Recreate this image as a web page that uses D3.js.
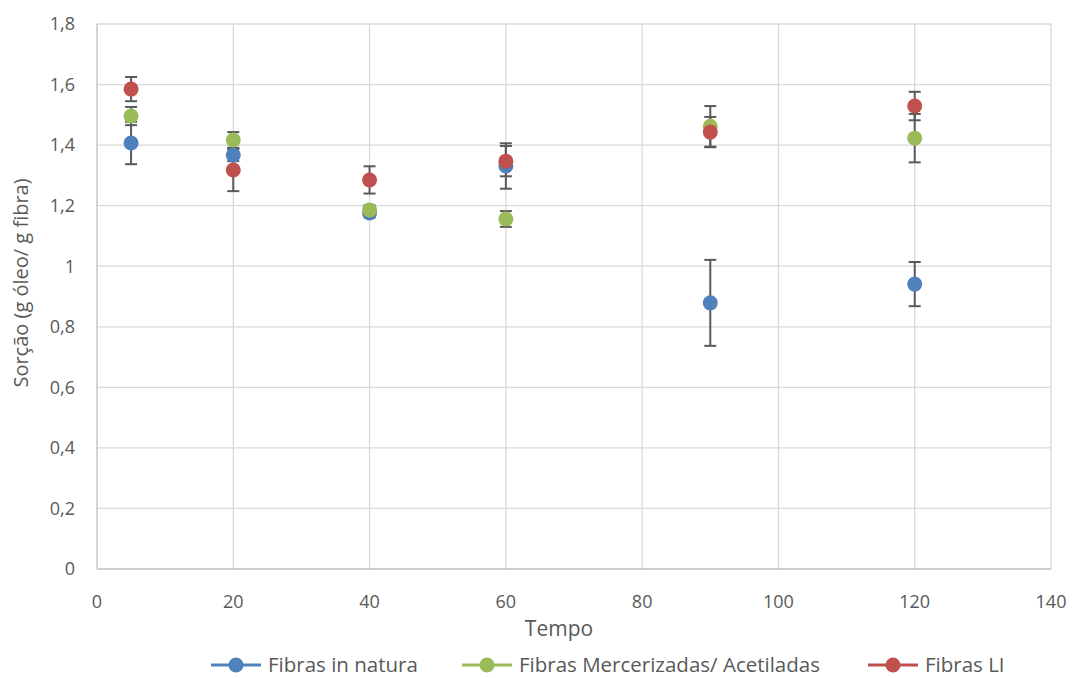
<!DOCTYPE html>
<html><head><meta charset="utf-8">
<script src="https://cdn.jsdelivr.net/npm/d3@7"></script>
<style>body{margin:0;background:#fff}svg{display:block}text{font-family:"Open Sans","Liberation Sans",sans-serif;fill:#595959}</style>
</head><body><svg id="c" width="1073" height="678"></svg>
<script>
const times = [5, 20, 40, 60, 90, 120];
const seriesNames = ["Fibras in natura", "Fibras Mercerizadas/ Acetiladas", "Fibras LI"];
const seriesColors = ["#4F81BD", "#9BBB59", "#C0504D"];
const naturaValues = [1.407, 1.367, 1.176, 1.331, 0.879, 0.941];
const naturaErrors = [0.07, 0.02, 0.015, 0.075, 0.142, 0.073];
const mercValues = [1.496, 1.417, 1.186, 1.156, 1.462, 1.423];
const mercErrors = [0.03, 0.026, 0.015, 0.026, 0.067, 0.08];
const liValues = [1.585, 1.318, 1.285, 1.347, 1.443, 1.529];
const liErrors = [0.04, 0.07, 0.045, 0.05, 0.05, 0.047];
const xTicks = [0, 20, 40, 60, 80, 100, 120, 140];
const yTicks = [0, 0.2, 0.4, 0.6, 0.8, 1, 1.2, 1.4, 1.6, 1.8];

const series = [
  {name: seriesNames[0], color: seriesColors[0], values: naturaValues, errors: naturaErrors},
  {name: seriesNames[1], color: seriesColors[1], values: mercValues, errors: mercErrors},
  {name: seriesNames[2], color: seriesColors[2], values: liValues, errors: liErrors}
];

const svg = d3.select("#c");
const L = 97, R = 1051, T = 24, B = 569;
const x = d3.scaleLinear().domain([0, 140]).range([L, R]);
const y = d3.scaleLinear().domain([0, 1.8]).range([B, T]);
const fmt = v => String(+v.toFixed(1)).replace(".", ",");

// gridlines
svg.append("g").selectAll("line").data(yTicks.slice(1)).join("line")
  .attr("x1", L).attr("x2", R).attr("y1", d => y(d)).attr("y2", d => y(d))
  .attr("stroke", "#d9d9d9").attr("stroke-width", 1.3);
svg.append("g").selectAll("line").data(xTicks.slice(1)).join("line")
  .attr("y1", T).attr("y2", B).attr("x1", d => x(d)).attr("x2", d => x(d))
  .attr("stroke", "#d9d9d9").attr("stroke-width", 1.3);
// axes lines
svg.append("line").attr("x1", L).attr("x2", L).attr("y1", T).attr("y2", B).attr("stroke", "#bfbfbf").attr("stroke-width", 1.3);
svg.append("line").attr("x1", L).attr("x2", R).attr("y1", B).attr("y2", B).attr("stroke", "#bfbfbf").attr("stroke-width", 1.3);

// tick labels
svg.append("g").selectAll("text").data(yTicks).join("text")
  .attr("x", 75).attr("y", d => y(d)).attr("dy", "0.35em").attr("text-anchor", "end")
  .style("font-size", "18px").text(d => fmt(d));
svg.append("g").selectAll("text").data(xTicks).join("text")
  .attr("x", d => x(d)).attr("y", 608).attr("text-anchor", "middle")
  .style("font-size", "18px").text(d => d);

// axis titles
svg.append("text").attr("x", 559).attr("y", 636).attr("text-anchor", "middle")
  .style("font-size", "21px").text("Tempo");
svg.append("text").attr("transform", `translate(28,283) rotate(-90)`)
  .attr("text-anchor", "middle").style("font-size", "20px").text("Sorção (g óleo/ g fibra)");

// error bars
const eg = svg.append("g");
series.forEach(s => {
  times.forEach((t, i) => {
    const cx = x(t), v = s.values[i], e = s.errors[i];
    eg.append("line").attr("x1", cx).attr("x2", cx).attr("y1", y(v - e)).attr("y2", y(v + e))
      .attr("stroke", "#595959").attr("stroke-width", 2);
    [v - e, v + e].forEach(w => eg.append("line").attr("x1", cx - 6).attr("x2", cx + 6)
      .attr("y1", y(w)).attr("y2", y(w)).attr("stroke", "#595959").attr("stroke-width", 2));
  });
});
// markers
series.forEach(s => {
  svg.append("g").selectAll("circle").data(times).join("circle")
    .attr("cx", d => x(d)).attr("cy", (d, i) => y(s.values[i])).attr("r", 7.5)
    .attr("fill", s.color);
});

// legend
const legendX = [211, 462, 868];
const lg = svg.append("g");
series.forEach((s, i) => {
  const lx = legendX[i], ly = 665;
  lg.append("line").attr("x1", lx).attr("x2", lx + 50).attr("y1", ly).attr("y2", ly)
    .attr("stroke", s.color).attr("stroke-width", 3);
  lg.append("circle").attr("cx", lx + 25).attr("cy", ly).attr("r", 7.5).attr("fill", s.color);
  lg.append("text").attr("x", lx + 57).attr("y", ly).attr("dy", "0.35em")
    .style("font-size", "20.5px").text(s.name);
});
</script></body></html>
